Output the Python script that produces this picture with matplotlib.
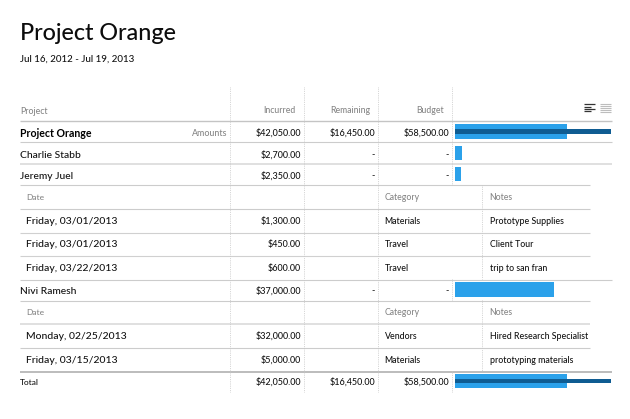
import matplotlib
matplotlib.use("Agg")
import matplotlib.pyplot as plt

plt.rcParams['font.family'] = ['Lato', 'DejaVu Sans']
plt.rcParams['font.weight'] = 'medium'

title = "Project Orange"
subtitle = "Jul 16, 2012 - Jul 19, 2013"
headers = ["Incurred", "Remaining", "Budget"]

# Main rows
peopleRows = ["Project Orange", "Charlie Stabb", "Jeremy Juel", "Nivi Ramesh", "Total"]
incurred = [42050, 2700, 2350, 37000, 42050]
budget = [58500, 0, 0, 0, 58500]
incurredText = ["$42,050.00", "$2,700.00", "$2,350.00", "$37,000.00", "$42,050.00"]
remainingText = ["$16,450.00", "-", "-", "-", "$16,450.00"]
budgetText = ["$58,500.00", "-", "-", "-", "$58,500.00"]

# Expense rows
dates = ["Friday, 03/01/2013", "Friday, 03/01/2013", "Friday, 03/22/2013",
         "Monday, 02/25/2013", "Friday, 03/15/2013"]
amounts = ["$1,300.00", "$450.00", "$600.00", "$32,000.00", "$5,000.00"]
categories = ["Materials", "Travel", "Travel", "Vendors", "Materials"]
notes = ["Prototype Supplies", "Client Tour", "trip to san fran",
         "Hired Research Specialist", "prototyping materials"]

# Layout, in pixels of the picture
peopleY = [133, 155, 176, 291, 382]
barY = [131.5, 153, 174, 289.5, 381]
expenseY = [221, 244.5, 268, 336.5, 360]
subHeaderY = [197, 312]
GREY = "#858585"
DARK = "#111111"

fig = plt.figure(figsize=(6.3, 4.19), dpi=100)
ax = fig.add_axes([0, 0, 1, 1])
ax.set_xlim(0, 630)
ax.set_ylim(419, 0)
ax.axis("off")

# Horizontal rules
for y, x1, col, lw in [(121.5, 612, "#c4c4c4", 1.0), (142.5, 612, "#cccccc", 0.8),
                       (163.8, 612, "#dddddd", 1.3), (185.5, 590, "#cccccc", 0.8),
                       (208.5, 590, "#cccccc", 0.8), (232.5, 590, "#d0d0d0", 0.8),
                       (255.5, 590, "#d0d0d0", 0.8), (279.5, 612, "#cccccc", 0.8),
                       (300.7, 590, "#cccccc", 0.8), (323.7, 590, "#dddddd", 1.3),
                       (347.5, 590, "#cccccc", 0.8), (371.5, 612, "#aaaaaa", 1.1)]:
    ax.plot([20, x1], [y, y], color=col, lw=lw, solid_capstyle="butt")

# Dotted column lines
for x, y0, y1 in [(229.5, 87, 392), (303.5, 87, 392), (377.5, 87, 392),
                  (451.5, 87, 185), (451.5, 279, 300), (451.5, 371, 392),
                  (481.5, 185, 279), (481.5, 300, 371)]:
    ax.plot([x, x], [y0, y1], color="#c8c8c8", lw=0.6, ls=(0, (1, 1.2)))

ax.text(20, 33.5, title, fontsize=16.8, color="#0c0c0c", va="center")
ax.text(20, 59.5, subtitle, fontsize=7.0, color=DARK, va="center")

ax.text(20, 111, "Project", fontsize=6.2, color=GREY, va="center")
for x, h in zip([296, 370, 444], headers):
    ax.text(x, 110.5, h, fontsize=6.2, color=GREY, va="center", ha="right")

ax.text(227, 133, "Amounts", fontsize=6.4, color=GREY, va="center", ha="right")

for i, (name, y) in enumerate(zip(peopleRows, peopleY)):
    if i == 0:
        ax.text(20, y, name, fontsize=7.6, color="#000000", va="center", fontweight="bold")
    elif i == 4:
        ax.text(20, y, name, fontsize=6.0, color=DARK, va="center")
    else:
        ax.text(20, y, name, fontsize=7.4, color=DARK, va="center")
    ax.text(301, y, incurredText[i], fontsize=6.5, color=DARK, va="center", ha="right")
    ax.text(375, y, remainingText[i], fontsize=6.5, color=DARK, va="center", ha="right")
    ax.text(449, y, budgetText[i], fontsize=6.5, color=DARK, va="center", ha="right")

for y in subHeaderY:
    ax.text(26.5, y, "Date", fontsize=6.0, color=GREY, va="center")
    ax.text(384.5, y, "Category", fontsize=6.2, color=GREY, va="center")
    ax.text(489.5, y, "Notes", fontsize=6.2, color=GREY, va="center")

for i, y in enumerate(expenseY):
    ax.text(26.5, y, dates[i], fontsize=7.5, color=DARK, va="center")
    ax.text(301, y, amounts[i], fontsize=6.5, color=DARK, va="center", ha="right")
    ax.text(384.5, y, categories[i], fontsize=6.3, color=DARK, va="center")
    ax.text(489.5, y, notes[i], fontsize=6.3, color=DARK, va="center")

# Bars share the picture's rows, but x runs in dollars
barAx = fig.add_axes([455 / 630, 0, 157 / 630, 1])
barAx.set_xlim(0, 58800)
barAx.set_ylim(419, 0)
barAx.axis("off")
barAx.patch.set_alpha(0)
barAx.barh(barY, incurred, height=14.5, color="#2ba1ea")
barAx.barh([barY[0], barY[4]], [budget[0], budget[4]], height=4.4, color="#0f5c92")

# View switch icons
for y, x1 in [(104.5, 595), (107, 591), (109.5, 595), (111.5, 591)]:
    ax.plot([584, x1], [y, y], color="#333333", lw=0.9, solid_capstyle="butt")
for y in [104.5, 106.5, 108.5, 110.5, 112]:
    ax.plot([600, 611], [y, y], color="#bdbdbd", lw=0.8, solid_capstyle="butt")

fig.savefig("out.png", dpi=100)
